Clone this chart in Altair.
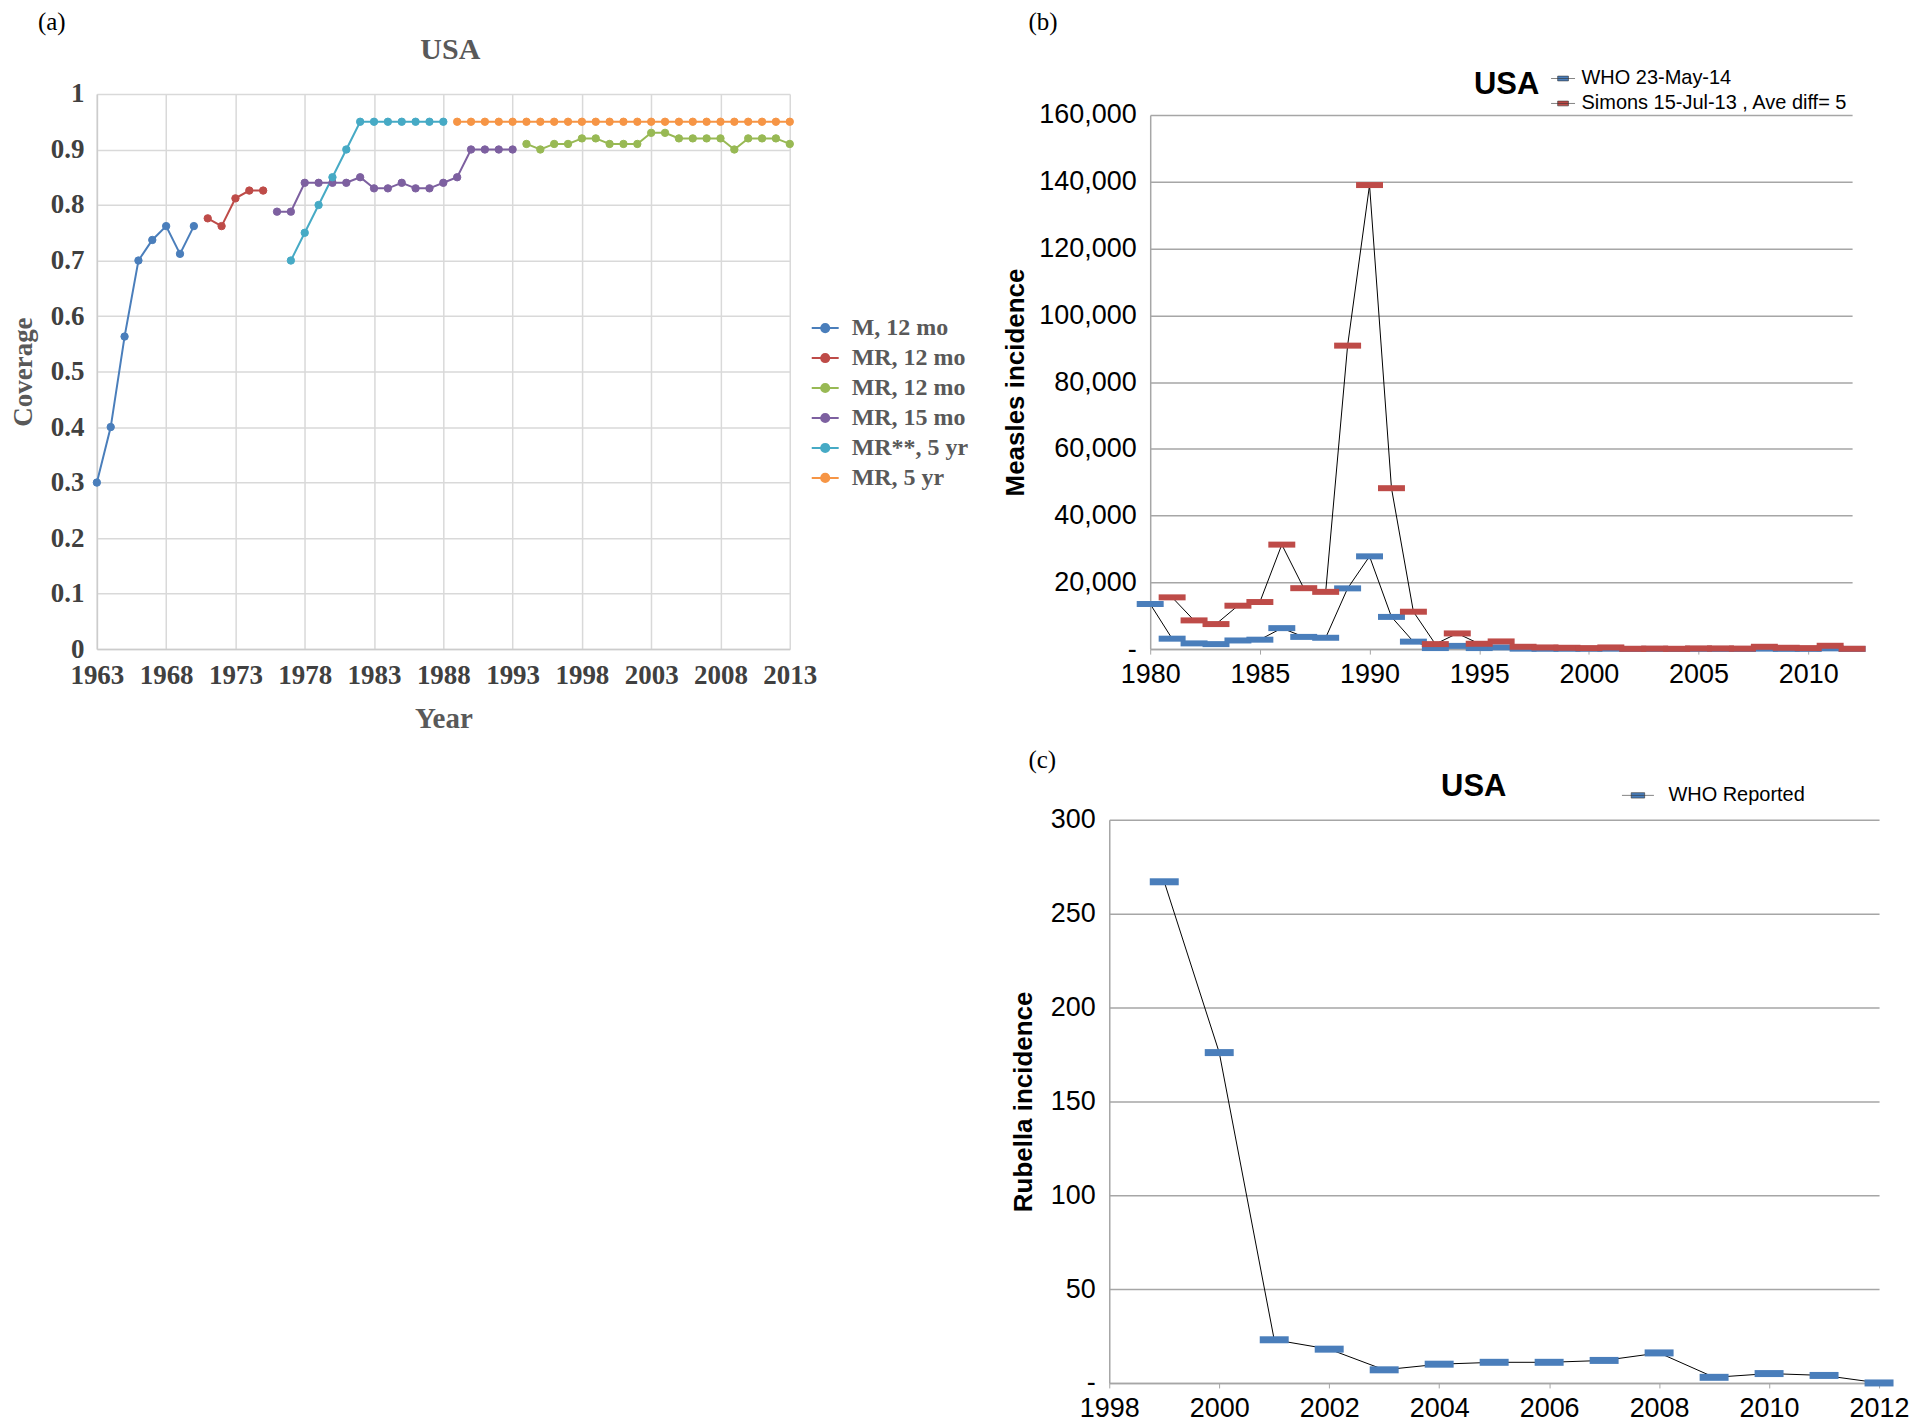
import altair as alt
import pandas as pd

SERIF = "Liberation Serif"
SANS = "Liberation Sans"

# ---------------- Panel (a): coverage ----------------
panel_labels = ["(a)", "(b)", "(c)"]
a_title = "USA"
a_names = ["M, 12 mo", "MR, 12 mo", "MR, 12 mo ", "MR, 15 mo", "MR**, 5 yr", "MR, 5 yr"]
a_colors = ["#4a7ebb", "#be4b48", "#98b954", "#7d60a0", "#46aac5", "#f69545"]

m12_years = [1963, 1964, 1965, 1966, 1967, 1968, 1969, 1970]
m12_vals = [0.30, 0.40, 0.563, 0.70, 0.737, 0.762, 0.712, 0.762]

mr12a_years = [1971, 1972, 1973, 1974, 1975]
mr12a_vals = [0.776, 0.762, 0.812, 0.826, 0.826]

mr12b_years = list(range(1994, 2014))
mr12b_vals = [0.91, 0.90, 0.91, 0.91, 0.92, 0.92, 0.91, 0.91, 0.91, 0.93,
              0.93, 0.92, 0.92, 0.92, 0.92, 0.90, 0.92, 0.92, 0.92, 0.91]

mr15_years = list(range(1976, 1994))
mr15_vals = [0.788, 0.788, 0.84, 0.84, 0.84, 0.84, 0.85, 0.83, 0.83, 0.84,
             0.83, 0.83, 0.84, 0.85, 0.90, 0.90, 0.90, 0.90]

mr5a_years = list(range(1977, 1989))
mr5a_vals = [0.70, 0.75, 0.80, 0.85, 0.90, 0.95, 0.95, 0.95, 0.95, 0.95, 0.95, 0.95]

mr5b_years = list(range(1989, 2014))
mr5b_vals = [0.95, 0.95, 0.95, 0.95, 0.95, 0.95, 0.95, 0.95, 0.95, 0.95,
             0.95, 0.95, 0.95, 0.95, 0.95, 0.95, 0.95, 0.95, 0.95, 0.95,
             0.95, 0.95, 0.95, 0.95, 0.95]

a_xticks = [1963, 1968, 1973, 1978, 1983, 1988, 1993, 1998, 2003, 2008, 2013]
a_yticks = [0, 0.1, 0.2, 0.3, 0.4, 0.5, 0.6, 0.7, 0.8, 0.9, 1.0]

# ---------------- Panel (b): measles ----------------
b_title = "USA"
b_names = ["WHO 23-May-14", "Simons 15-Jul-13 , Ave diff= 5"]
b_colors = ["#4a7ebb", "#be4b48"]
who_m_years = list(range(1980, 2013))
who_m_vals = [13506, 3124, 1714, 1497, 2587, 2822, 6282, 3655, 3396, 18193,
              27786, 9643, 2237, 312, 963, 309, 508, 138, 100, 100,
              86, 116, 44, 56, 37, 66, 55, 43, 140, 71,
              63, 220, 55]
sim_years = list(range(1981, 2013))
sim_vals = [15500, 8600, 7500, 13000, 14100, 31300, 18250, 17150, 90900, 139000,
            48200, 11200, 1500, 4700, 1600, 2300, 700, 500, 400, 300,
            500, 100, 150, 100, 200, 200, 150, 700, 400, 300,
            1000, 100]
b_xticks = [1980, 1985, 1990, 1995, 2000, 2005, 2010]
b_yticks = [0, 20000, 40000, 60000, 80000, 100000, 120000, 140000, 160000]

# ---------------- Panel (c): rubella ----------------
c_title = "USA"
c_names = ["WHO Reported"]
c_colors = ["#4a7ebb"]
rub_years = list(range(1999, 2013))
rub_vals = [267, 176, 23, 18, 7, 10, 11, 11, 12, 16, 3, 5, 4, 0]
c_xticks = [1998, 2000, 2002, 2004, 2006, 2008, 2010, 2012]
c_yticks = [0, 50, 100, 150, 200, 250, 300]

# ---------------- build tables ----------------
rows = []
for name, ys, vs in zip(a_names,
                        [m12_years, mr12a_years, mr12b_years, mr15_years, mr5a_years, mr5b_years],
                        [m12_vals, mr12a_vals, mr12b_vals, mr15_vals, mr5a_vals, mr5b_vals]):
    for y, v in zip(ys, vs):
        rows.append({"series": name, "year": y, "value": v})
df_a = pd.DataFrame(rows)

rows = []
for name, ys, vs in zip(b_names, [who_m_years, sim_years], [who_m_vals, sim_vals]):
    for y, v in zip(ys, vs):
        rows.append({"series": name, "year": y, "value": v})
df_b = pd.DataFrame(rows)

df_c = pd.DataFrame({"series": c_names * len(rub_years), "year": rub_years, "value": rub_vals})


def text_layer(text, px, py, font, size, weight="normal", color="#000000", align="left"):
    return alt.Chart(pd.DataFrame({"t": [text]})).mark_text(
        font=font, fontSize=size, fontWeight=weight, align=align, baseline="middle",
        color=color
    ).encode(x=alt.value(px), y=alt.value(py), text="t:N")


def spacer(w, h):
    return alt.Chart(pd.DataFrame({"v": [0]})).mark_point(opacity=0).encode(
        x=alt.value(0), y=alt.value(0)
    ).properties(width=w, height=h)


def indep(c):
    return c.resolve_scale(color="independent", fill="independent", stroke="independent"
                           ).resolve_legend(color="independent", fill="independent",
                                            stroke="independent")


# ---------------- chart (a) ----------------
A_W, A_H = 694, 556
xa = alt.X("year:Q", scale=alt.Scale(domain=[1963, 2013], nice=False, zero=False),
           axis=alt.Axis(values=a_xticks, format="d", title="Year", labelFlush=False,
                         labelOverlap=False, ticks=False, tickSize=0, labelPadding=13,
                         labelFont=SERIF, labelFontSize=27, labelFontWeight="bold",
                         labelColor="#404040", titleFont=SERIF, titleFontSize=29,
                         titleFontWeight="bold", titleColor="#595959", titlePadding=17,
                         gridColor="#d9d9d9", gridWidth=1.5, domainColor="#cccccc",
                         domainWidth=1.5))
ya = alt.Y("value:Q", scale=alt.Scale(domain=[0, 1], nice=False),
           axis=alt.Axis(values=a_yticks, format=".1~f", title="Coverage", labelFlush=False,
                         labelOverlap=False, ticks=False, tickSize=0, labelPadding=13,
                         labelFont=SERIF, labelFontSize=27, labelFontWeight="bold",
                         labelColor="#404040", titleFont=SERIF, titleFontSize=27,
                         titleFontWeight="bold", titleColor="#595959", titlePadding=13,
                         gridColor="#d9d9d9", gridWidth=1.5, domainColor="#cccccc",
                         domainWidth=1.5))
a_scale = alt.Scale(domain=a_names, range=a_colors)
a_legend = alt.Legend(title=None, orient="none", legendX=715, legendY=220,
                      symbolType="M-1,0H1M-0.3,0A0.3,0.3,0,1,1,0.3,0A0.3,0.3,0,1,1,-0.3,0Z",
                      symbolSize=729, symbolStrokeWidth=2, labelOffset=12, rowPadding=3,
                      labelFont=SERIF, labelFontSize=24, labelFontWeight="bold",
                      labelColor="#595959", labelLimit=300)

a_line = alt.Chart(df_a).mark_line(strokeWidth=2).encode(
    x=xa, y=ya, stroke=alt.Stroke("series:N", scale=a_scale, legend=a_legend))
a_pts = alt.Chart(df_a).mark_point(filled=True, size=55, strokeWidth=1, opacity=1).encode(
    x=xa, y=ya,
    fill=alt.Fill("series:N", scale=a_scale, legend=a_legend),
    stroke=alt.Stroke("series:N", scale=a_scale, legend=a_legend))

chart_a = alt.layer(
    a_line, a_pts,
    text_layer(panel_labels[0], -59, -72, SERIF, 25),
    text_layer(a_title, 354, -44, SERIF, 30, "bold", "#595959", "center"),
).properties(width=A_W, height=A_H)

# ---------------- chart (b) ----------------
B_W, B_H = 703, 535
xb = alt.X("year:Q", scale=alt.Scale(domain=[1980, 2012], nice=False, zero=False),
           axis=alt.Axis(values=b_xticks, format="d", title=None, grid=False, labelFlush=False,
                         labelOverlap=False, ticks=True, tickSize=5, tickColor="#a6a6a6",
                         labelPadding=7, labelFont=SANS, labelFontSize=27,
                         labelColor="#000000", domainColor="#a6a6a6", domainWidth=1.5))
yb = alt.Y("value:Q", scale=alt.Scale(domain=[0, 160000], nice=False),
           axis=alt.Axis(values=b_yticks, title="Measles incidence", labelFlush=False,
                         labelOverlap=False, ticks=False, tickSize=0, labelPadding=14,
                         labelExpr="datum.value == 0 ? '-' : format(datum.value, ',')",
                         labelFont=SANS, labelFontSize=27, labelColor="#000000",
                         titleFont=SANS, titleFontSize=26, titleFontWeight="bold",
                         titleColor="#000000", titlePadding=10,
                         gridColor="#a6a6a6", gridWidth=1.5, domainColor="#a6a6a6",
                         domainWidth=1.5))
b_scale = alt.Scale(domain=b_names, range=b_colors)
b_legend = alt.Legend(title=None, orient="none", legendX=401, legendY=-49,
                      symbolType="M-1,0H1M-0.45,-0.2H0.45V0.2H-0.45Z",
                      symbolSize=576, symbolStrokeWidth=0.6, symbolStrokeColor="#333333",
                      labelOffset=6, rowPadding=2, labelFont=SANS, labelFontSize=20,
                      labelColor="#000000", labelLimit=400)

b_line = alt.Chart(df_b).mark_line(color="#000000", strokeWidth=1).encode(
    x=xb, y=yb, detail="series:N")
b_ticks = alt.Chart(df_b).mark_tick(orient="horizontal", size=27, thickness=6, opacity=1).encode(
    x=xb, y=yb, color=alt.Color("series:N", scale=b_scale, legend=b_legend))

chart_b = alt.layer(
    b_line, b_ticks,
    text_layer(panel_labels[1], -122, -93, SERIF, 25),
    text_layer(b_title, 357, -30, SANS, 31, "bold", "#000000", "center"),
).properties(width=B_W, height=B_H)

# ---------------- chart (c) ----------------
C_W, C_H = 771, 564
xc = alt.X("year:Q", scale=alt.Scale(domain=[1998, 2012], nice=False, zero=False),
           axis=alt.Axis(values=c_xticks, format="d", title=None, grid=False, labelFlush=False,
                         labelOverlap=False, ticks=True, tickSize=5, tickColor="#a6a6a6",
                         labelPadding=8, labelFont=SANS, labelFontSize=27,
                         labelColor="#000000", domainColor="#a6a6a6", domainWidth=1.5))
yc = alt.Y("value:Q", scale=alt.Scale(domain=[0, 300], nice=False),
           axis=alt.Axis(values=c_yticks, title="Rubella incidence", labelFlush=False,
                         labelOverlap=False, ticks=False, tickSize=0, labelPadding=14,
                         labelExpr="datum.value == 0 ? '-' : format(datum.value, ',')",
                         labelFont=SANS, labelFontSize=27, labelColor="#000000",
                         titleFont=SANS, titleFontSize=26, titleFontWeight="bold",
                         titleColor="#000000", titlePadding=14,
                         gridColor="#a6a6a6", gridWidth=1.5, domainColor="#a6a6a6",
                         domainWidth=1.5))
c_scale = alt.Scale(domain=c_names, range=c_colors)
c_legend = alt.Legend(title=None, orient="none", legendX=513, legendY=-41,
                      symbolType="M-1,0H1M-0.42,-0.17H0.42V0.17H-0.42Z",
                      symbolSize=1024, symbolStrokeWidth=0.6, symbolStrokeColor="#333333",
                      labelOffset=14, labelFont=SANS, labelFontSize=20,
                      labelColor="#000000", labelLimit=400)

c_line = alt.Chart(df_c).mark_line(color="#000000", strokeWidth=1).encode(x=xc, y=yc)
c_ticks = alt.Chart(df_c).mark_tick(orient="horizontal", size=29, thickness=7, opacity=1).encode(
    x=xc, y=yc, color=alt.Color("series:N", scale=c_scale, legend=c_legend))

chart_c = alt.layer(
    c_line, c_ticks,
    text_layer(panel_labels[2], -81, -60, SERIF, 25),
    text_layer(c_title, 365, -33, SANS, 31, "bold", "#000000", "center"),
).properties(width=C_W, height=C_H)

# ---------------- layout ----------------
# With flush bounds a nested concat counts as zero size, so spacings give the offsets.
right_top = indep(alt.vconcat(spacer(10, 21), chart_b, spacing=0, bounds="flush"))
top_row = indep(alt.hconcat(chart_a, right_top, spacing=1152 - 791, bounds="flush"))
bottom_row = indep(alt.hconcat(spacer(1014, 10), chart_c, spacing=0, bounds="flush"))
chart = indep(alt.vconcat(top_row, bottom_row, spacing=820 - 93, bounds="flush")).properties(
    padding={"left": 0, "top": 0, "right": 2, "bottom": 2}, background="#ffffff"
).configure_view(stroke="transparent")

chart.save("out.html", embed_options={"renderer": "svg", "actions": False})
